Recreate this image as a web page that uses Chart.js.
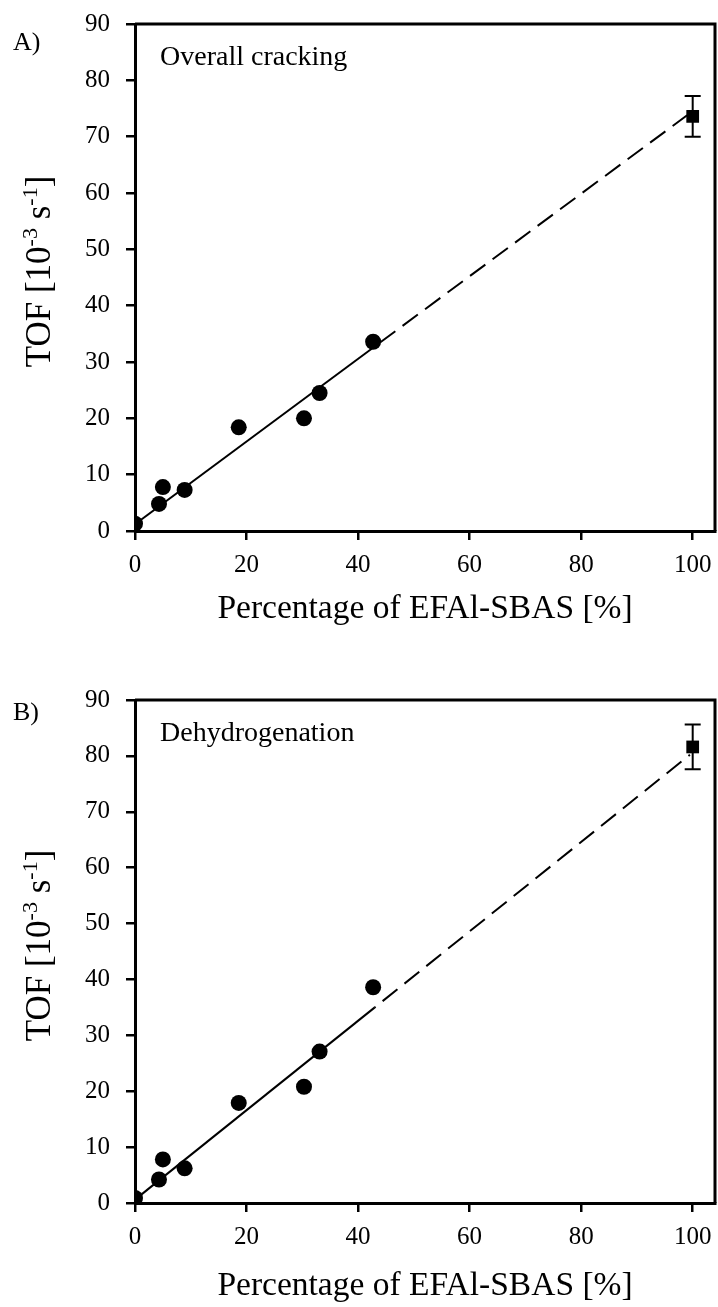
<!DOCTYPE html>
<html>
<head>
<meta charset="utf-8">
<script src="https://cdn.jsdelivr.net/npm/chart.js@4/dist/chart.umd.min.js"></script>
<style>
  html, body { margin: 0; padding: 0; background: #fff; }
  canvas { display: block; }
</style>
</head>
<body>
<canvas id="panelA" width="718" height="650"></canvas>
<canvas id="panelB" width="718" height="657"></canvas>
<script>
// Share of EFAl-SBAS sites in each zeolite sample [%]
const efalShare = [0, 4.3, 5.0, 8.9, 18.6, 30.3, 33.1, 42.7];
// Turnover frequencies [10^-3 s^-1]
const tofCracking = [1.3, 4.8, 7.8, 7.3, 18.4, 20.0, 24.5, 33.6];
const tofDehydro  = [0.9, 4.2, 7.8, 6.2, 17.9, 20.8, 27.1, 38.6];

// Extrapolated value for a pure EFAl-SBAS material, with its uncertainty
const pureShare = [100];
const pureCracking = [73.6];
const pureCrackingErr = [3.6];
const pureDehydro = [81.6];
const pureDehydroErr = [4.0];

// Linear trend: fitted range (first two points) and extrapolation (last two)
const trendCrackX = [0, 42.5, 99];
const trendCrackY = [1.2, 32.4, 73.8];
const trendDehydroX = [0, 43, 99.5];
const trendDehydroY = [0.6, 35.0, 80.2];

const xTicks = [0, 20, 40, 60, 80, 100];
const yTicks = [0, 10, 20, 30, 40, 50, 60, 70, 80, 90];

const SERIF = "'Liberation Serif', 'Times New Roman', serif";
Chart.defaults.color = '#000';
Chart.defaults.font.family = SERIF;

const toPoints = (xs, ys) => xs.map((x, i) => ({ x: x, y: ys[i] }));

// Top and right frame lines closing the plot box
const frame = {
  id: 'frame',
  afterDraw(chart) {
    const { ctx, chartArea: a } = chart;
    ctx.save();
    ctx.strokeStyle = '#000';
    ctx.lineWidth = 3;
    ctx.beginPath();
    ctx.moveTo(a.left, a.top);
    ctx.lineTo(a.right, a.top);
    ctx.lineTo(a.right, a.bottom);
    ctx.stroke();
    ctx.restore();
  }
};

// Vertical error bars with caps for datasets that carry an `errors` array
const errorBars = {
  id: 'errorBars',
  afterDatasetsDraw(chart) {
    const { ctx, scales: { x, y } } = chart;
    chart.data.datasets.forEach((ds) => {
      if (!ds.errors) return;
      ds.data.forEach((p, i) => {
        const e = ds.errors[i];
        const px = x.getPixelForValue(p.x);
        const top = y.getPixelForValue(p.y + e);
        const bot = y.getPixelForValue(p.y - e);
        ctx.save();
        ctx.strokeStyle = '#000';
        ctx.lineWidth = 2;
        ctx.beginPath();
        ctx.moveTo(px, top); ctx.lineTo(px, bot);
        ctx.moveTo(px - 8, top); ctx.lineTo(px + 8, top);
        ctx.moveTo(px - 8, bot); ctx.lineTo(px + 8, bot);
        ctx.stroke();
        ctx.restore();
      });
    });
  }
};

// Panel letter, reaction label and the y-axis title with superscripts
const panelText = {
  id: 'panelText',
  afterDraw(chart, args, opts) {
    const { ctx, chartArea: a } = chart;
    ctx.save();
    ctx.fillStyle = '#000';
    ctx.textBaseline = 'alphabetic';
    ctx.textAlign = 'left';
    ctx.font = '26px ' + SERIF;
    ctx.fillText(opts.letter, 13, opts.letterY);
    ctx.font = '28px ' + SERIF;
    ctx.fillText(opts.label, a.left + 25, a.top + 41);

    // rotated axis title: TOF [10^-3 s^-1]
    const parts = [
      ['TOF [10', false], ['-3', true], [' s', false], ['-1', true], [']', false]
    ];
    const big = '35px ' + SERIF, small = '22px ' + SERIF;
    let total = 0;
    parts.forEach(([t, sup]) => { ctx.font = sup ? small : big; total += ctx.measureText(t).width; });
    ctx.translate(50, (a.top + a.bottom) / 2 - 6);
    ctx.rotate(-Math.PI / 2);
    let cx = -total / 2;
    parts.forEach(([t, sup]) => {
      ctx.font = sup ? small : big;
      ctx.fillText(t, cx, sup ? -13 : 0);
      cx += ctx.measureText(t).width;
    });
    ctx.restore();
  }
};

function panel(id, cfg) {
  return new Chart(document.getElementById(id), {
    type: 'scatter',
    data: {
      datasets: [
        {
          data: toPoints(efalShare, cfg.tof),
          pointStyle: 'circle', pointRadius: 8, pointHoverRadius: 8,
          backgroundColor: '#000', borderColor: '#000', borderWidth: 0
        },
        {
          data: toPoints(pureShare, cfg.pure),
          errors: cfg.pureErr,
          pointStyle: 'rect', pointRadius: 9, pointHoverRadius: 9,
          backgroundColor: '#000', borderColor: '#000', borderWidth: 0
        },
        {
          type: 'line',
          data: toPoints(cfg.trendX.slice(0, 2), cfg.trendY.slice(0, 2)),
          borderColor: '#000', borderWidth: 2, pointRadius: 0, fill: false
        },
        {
          type: 'line',
          data: toPoints(cfg.trendX.slice(1), cfg.trendY.slice(1)),
          borderColor: '#000', borderWidth: 2, borderDash: [19, 9], borderDashOffset: -10,
          pointRadius: 0, fill: false
        }
      ]
    },
    options: {
      responsive: false,
      animation: false,
      devicePixelRatio: 1,
      layout: { autoPadding: false, padding: { top: cfg.padTop, right: 3, left: 0, bottom: 0 } },
      plugins: {
        legend: { display: false },
        tooltip: { enabled: false },
        panelText: { letter: cfg.letter, letterY: cfg.letterY, label: cfg.label }
      },
      scales: {
        x: {
          type: 'linear', min: 0, max: 104,
          afterBuildTicks: (s) => { s.ticks = xTicks.map(v => ({ value: v })); },
          afterFit: (s) => { s.height = cfg.xHeight; },
          ticks: { font: { size: 25, lineHeight: 1.76 }, padding: 3, color: '#000', maxRotation: 0 },
          grid: { drawOnChartArea: false, tickLength: 9, color: '#000', lineWidth: 2.5 },
          border: { display: true, color: '#000', width: 3 },
          title: {
            display: true, text: 'Percentage of EFAl-SBAS [%]', color: '#000',
            font: { size: 33.5 }, padding: { top: 0, bottom: cfg.titlePad }
          }
        },
        y: {
          type: 'linear', min: 0, max: 90,
          afterBuildTicks: (s) => { s.ticks = yTicks.map(v => ({ value: v })); },
          afterFit: (s) => { s.width = 135; s.paddingTop = 0; s.paddingBottom = 0; },
          ticks: { font: { size: 25 }, padding: 16, color: '#000' },
          grid: { drawOnChartArea: false, tickLength: 9, color: '#000', lineWidth: 2.5 },
          border: { display: true, color: '#000', width: 3 }
        }
      }
    },
    plugins: [frame, errorBars, panelText]
  });
}

panel('panelA', {
  tof: tofCracking, pure: pureCracking, pureErr: pureCrackingErr,
  trendX: trendCrackX, trendY: trendCrackY,
  letter: 'A)', letterY: 50, label: 'Overall cracking',
  padTop: 24, xHeight: 119, titlePad: 21
});
panel('panelB', {
  tof: tofDehydro, pure: pureDehydro, pureErr: pureDehydroErr,
  trendX: trendDehydroX, trendY: trendDehydroY,
  letter: 'B)', letterY: 70, label: 'Dehydrogenation',
  padTop: 50, xHeight: 104, titlePad: 1
});
</script>
</body>
</html>
